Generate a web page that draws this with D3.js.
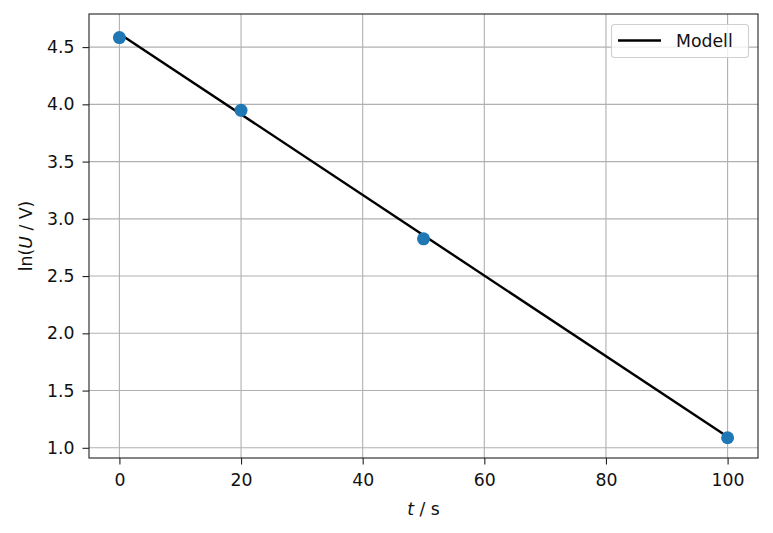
<!DOCTYPE html>
<html><head><meta charset="utf-8">
<script src="https://cdn.jsdelivr.net/npm/d3@7"></script>
<style>body{margin:0;background:#fff}svg{display:block}text{font-family:"DejaVu Sans",sans-serif}</style>
</head><body>
<svg id="c" width="773" height="533"></svg>
<script>
const tData = [0, 20, 50, 100];
const lnU = [4.583, 3.948, 2.825, 1.088];
const modelT = [0, 100];
const modelY = [4.617, 1.096];
const xTicks = [0, 20, 40, 60, 80, 100];
const yTicks = [1.0, 1.5, 2.0, 2.5, 3.0, 3.5, 4.0, 4.5];

const FS = 17.3;
const svg = d3.select("#c");
const L = 89, R = 758, T = 14, B = 458;
const x = d3.scaleLinear().domain([-5, 105]).range([L, R]);
const y = d3.scaleLinear().domain([0.911, 4.789]).range([B, T]);

const g = svg.append("g");
g.selectAll(".gx").data(xTicks).enter().append("line")
 .attr("x1", d => x(d)).attr("x2", d => x(d)).attr("y1", T).attr("y2", B)
 .attr("stroke", "#b0b0b0").attr("stroke-width", 1.1);
g.selectAll(".gy").data(yTicks).enter().append("line")
 .attr("y1", d => y(d)).attr("y2", d => y(d)).attr("x1", L).attr("x2", R)
 .attr("stroke", "#b0b0b0").attr("stroke-width", 1.1);

const xAxis = d3.axisBottom(x).tickValues(xTicks).tickFormat(d3.format("d")).tickSizeInner(6.5).tickSizeOuter(0).tickPadding(9);
const yAxis = d3.axisLeft(y).tickValues(yTicks).tickFormat(d3.format(".1f")).tickSizeInner(6.5).tickSizeOuter(0).tickPadding(8);
const gx = svg.append("g").attr("transform", `translate(0,${B})`).call(xAxis);
const gy = svg.append("g").attr("transform", `translate(${L},0)`).call(yAxis);
[gx, gy].forEach(a => {
  a.select(".domain").remove();
  a.selectAll(".tick line").attr("stroke", "#222").attr("stroke-width", 1.1);
  a.selectAll(".tick text").attr("font-size", FS).attr("fill", "#111").attr("font-family", "DejaVu Sans");
});

const line = d3.line().x((d, i) => x(modelT[i])).y(d => y(d));
svg.append("path").datum(modelY).attr("d", line).attr("fill", "none").attr("stroke", "#000").attr("stroke-width", 2.4);

svg.selectAll(".pt").data(tData).enter().append("circle")
 .attr("cx", d => x(d)).attr("cy", (d, i) => y(lnU[i])).attr("r", 6.5).attr("fill", "#1f77b4");

svg.append("rect").attr("x", L).attr("y", T).attr("width", R - L).attr("height", B - T)
 .attr("fill", "none").attr("stroke", "#222").attr("stroke-width", 1.1);

const xl = svg.append("text").attr("x", (L + R) / 2).attr("y", 515).attr("text-anchor", "middle").attr("font-size", FS).attr("fill", "#111");
xl.append("tspan").attr("font-style", "italic").text("t");
xl.append("tspan").text(" / s");
const yl = svg.append("text").attr("transform", `translate(32,${(T + B) / 2}) rotate(-90)`).attr("text-anchor", "middle").attr("font-size", FS).attr("fill", "#111");
yl.append("tspan").text("ln(");
yl.append("tspan").attr("font-style", "italic").text("U");
yl.append("tspan").text(" / V)");

const lg = svg.append("g");
lg.append("rect").attr("x", 611.5).attr("y", 24.5).attr("width", 137).attr("height", 33).attr("rx", 3)
 .attr("fill", "#fff").attr("fill-opacity", 0.8).attr("stroke", "#d0d0d0").attr("stroke-width", 1.1);
lg.append("line").attr("x1", 618).attr("x2", 661).attr("y1", 40.5).attr("y2", 40.5).attr("stroke", "#000").attr("stroke-width", 2.4);
lg.append("text").attr("x", 676).attr("y", 46.5).attr("font-size", FS).attr("fill", "#111").text("Modell");
</script>
</body></html>
